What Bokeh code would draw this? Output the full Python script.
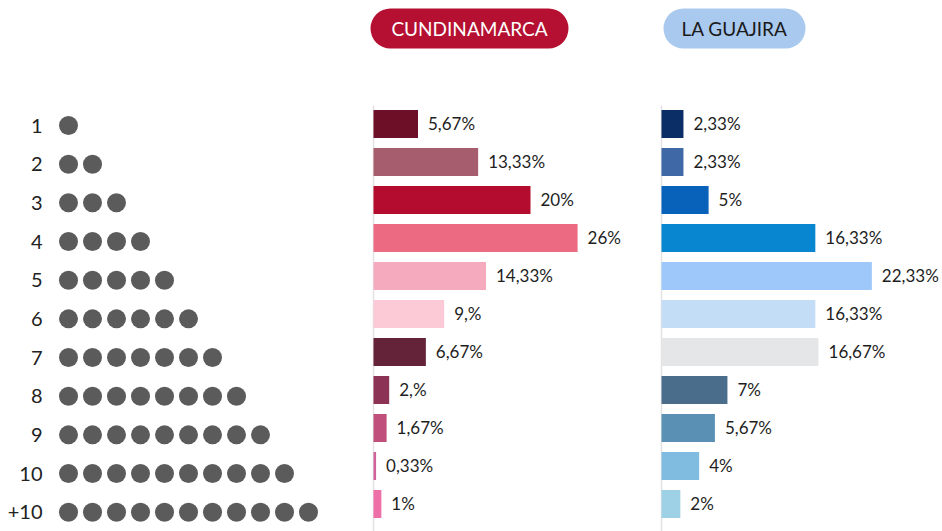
from bokeh.plotting import figure
from bokeh.layouts import row
from bokeh.models import Range1d, BoxAnnotation, Label
from bokeh.embed import file_html
from bokeh.resources import INLINE
from bokeh.core.properties import value

# ---------------- data ----------------
categories = ["1", "2", "3", "4", "5", "6", "7", "8", "9", "10", "+10"]
dot_counts = [1, 2, 3, 4, 5, 6, 7, 8, 9, 10, 11]

cund_values = [5.67, 13.33, 20, 26, 14.33, 9, 6.67, 2, 1.67, 0.33, 1]
cund_labels = ["5,67%", "13,33%", "20%", "26%", "14,33%", "9,%", "6,67%", "2,%", "1,67%", "0,33%", "1%"]
cund_colors = ["#6d0f26", "#a65e6e", "#b30c2f", "#ec6a82", "#f6aabd", "#fccad6",
               "#642338", "#8c3355", "#c04f7b", "#d0649a", "#ee6fa8"]

guaj_values = [2.33, 2.33, 5, 16.33, 22.33, 16.33, 16.67, 7, 5.67, 4, 2]
guaj_labels = ["2,33%", "2,33%", "5%", "16,33%", "22,33%", "16,33%", "16,67%", "7%", "5,67%", "4%", "2%"]
guaj_colors = ["#0b2e66", "#3f69a6", "#0862b9", "#0887d0", "#9dc8f9", "#c3ddf7",
               "#e5e6e8", "#4a6d8c", "#5b90b5", "#80bbe0", "#9ed1e6"]

titles = ["CUNDINAMARCA", "LA GUAJIRA"]
title_fill = ["#b50f31", "#a9c9ee"]
title_text = ["#ffffff", "#1a1a1a"]

# ---------------- layout constants (pixels) ----------------
H = 531
FONT = "Lato"
idx = list(range(len(categories)))


def base_fig(w, x_range, y_range):
    p = figure(width=w, height=H, x_range=x_range, y_range=y_range,
               toolbar_location=None, output_backend="svg",
               x_axis_location=None, y_axis_location=None,
               min_border=0, outline_line_color=None)
    p.grid.visible = False
    p.background_fill_color = "white"
    p.border_fill_color = "white"
    return p


# ---------- dots panel ----------
D_W, D_ROW, D_FIRST_Y, D_STEP, D_FIRST_X = 365, 38.67, 125.0, 24.0, 68.0
d_xr = Range1d(-D_FIRST_X / D_STEP, (D_W - D_FIRST_X) / D_STEP)
d_yr = Range1d((H - D_FIRST_Y) / D_ROW, -D_FIRST_Y / D_ROW)
pd = base_fig(D_W, d_xr, d_yr)
xs, ys = [], []
for i, n in enumerate(dot_counts):
    for k in range(n):
        xs.append(k)
        ys.append(i)
pd.scatter(xs, ys, size=19, marker="circle", fill_color="#5b5b5b", line_color=None)
pd.text(x=[(42 - D_FIRST_X) / D_STEP] * len(idx), y=idx, text=categories,
        text_align="right", text_baseline="middle", text_font=value(FONT),
        text_font_size="20px", text_color="#222222")

# ---------- bar panels ----------
B_ROW, B_FIRST_Y, BAR_H = 38.0, 123.4, 28.0


def bar_panel(w, zero_px, scale, vals, labels, colors, title, fill, tcol, pill_l, pill_r):
    xr = Range1d(-zero_px / scale, (w - zero_px) / scale)
    yr = Range1d((H - B_FIRST_Y) / B_ROW, -B_FIRST_Y / B_ROW)
    p = base_fig(w, xr, yr)
    # axis line
    p.segment(x0=[0], y0=[(105 - B_FIRST_Y) / B_ROW], x1=[0], y1=[(H + 20 - B_FIRST_Y) / B_ROW],
              line_color="#e2e2e2", line_width=1.5)
    p.hbar(y=idx, left=0, right=vals, height=BAR_H / B_ROW, fill_color=colors, line_color=None)
    p.text(x=vals, y=idx, text=labels, x_offset=10, text_baseline="middle",
           text_align="left", text_font=value(FONT), text_font_size="17px",
           text_color="#1e1e1e")
    top = (8 - B_FIRST_Y) / B_ROW
    bot = (48 - B_FIRST_Y) / B_ROW
    left = (pill_l - zero_px) / scale
    right = (pill_r - zero_px) / scale
    p.add_layout(BoxAnnotation(left=left, right=right, top=top, bottom=bot,
                               fill_color=fill, fill_alpha=1.0, line_color=None,
                               border_radius=20))
    p.add_layout(Label(x=(left + right) / 2, y=(top + bot) / 2, text=title,
                       text_align="center", text_baseline="middle",
                       text_font=FONT, text_font_size="19px", text_color=tcol))
    return p


pc = bar_panel(290, 8.0, 7.85, cund_values, cund_labels, cund_colors,
               titles[0], title_fill[0], title_text[0], 5, 203)
pg = bar_panel(287, 6.0, 9.42, guaj_values, guaj_labels, guaj_colors,
               titles[1], title_fill[1], title_text[1], 8, 150)

layout = row(pd, pc, pg, spacing=0)
open("out.html", "w").write(file_html(layout, INLINE))
